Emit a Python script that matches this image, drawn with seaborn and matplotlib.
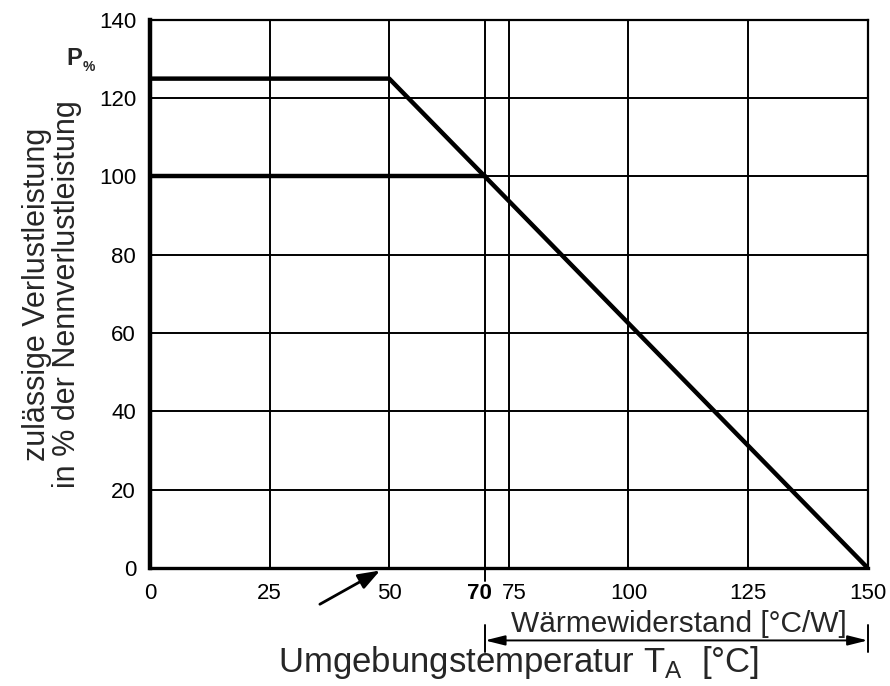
import matplotlib
matplotlib.use("Agg")
import matplotlib.pyplot as plt
import matplotlib.transforms as mtransforms
import seaborn as sns
import pandas as pd

sns.set_theme(style="white")
plt.rcParams['font.family'] = ['Liberation Sans', 'DejaVu Sans']

# Data
derating_temp = [0, 50, 150]
derating_pct = [125, 125, 0]
nominal_temp = [0, 70]
nominal_pct = [100, 100]
x_ticks = [0, 25, 50, 70, 75, 100, 125, 150]
y_ticks = [0, 20, 40, 60, 80, 100, 120, 140]

df1 = pd.DataFrame({"T": derating_temp, "P": derating_pct})
df2 = pd.DataFrame({"T": nominal_temp, "P": nominal_pct})

fig = plt.figure(figsize=(8.9, 6.86), dpi=100)
ax = fig.add_axes([0.1685, 0.172, 0.8065, 0.799])

sns.lineplot(data=df1, x="T", y="P", ax=ax, color="black", linewidth=3.2, estimator=None, sort=False)
sns.lineplot(data=df2, x="T", y="P", ax=ax, color="black", linewidth=3.2, estimator=None, sort=False)

ax.set_xlim(0, 150)
ax.set_ylim(0, 140)
ax.set_xticks(x_ticks)
ax.set_yticks(y_ticks)
ax.set_xticklabels([str(v) for v in x_ticks], fontsize=16)
ax.set_yticklabels([str(v) for v in y_ticks], fontsize=16)
ax.tick_params(axis="x", length=0, pad=11, colors="black")
ax.tick_params(axis="y", length=0, pad=10, colors="black")
for lbl in ax.get_xticklabels():
    t = lbl.get_text()
    if t == "70":
        lbl.set_fontweight("bold")
        lbl.set_transform(lbl.get_transform() + mtransforms.ScaledTranslation(-5 / 100, 0, fig.dpi_scale_trans))
    elif t == "75":
        lbl.set_transform(lbl.get_transform() + mtransforms.ScaledTranslation(5 / 100, 0, fig.dpi_scale_trans))
ax.grid(True, color="black", linewidth=1.4)
ax.set_axisbelow(True)
for side in ["top", "right"]:
    ax.spines[side].set_linewidth(1.6)
    ax.spines[side].set_color("black")
ax.spines["left"].set_linewidth(3.2)
ax.spines["left"].set_color("black")
ax.spines["bottom"].set_linewidth(2.4)
ax.spines["bottom"].set_color("black")

ax.set_xlabel("")
ax.set_ylabel("zulässige Verlustleistung\nin % der Nennverlustleistung", fontsize=22, labelpad=12, linespacing=1.0)

# tick below 70
ax.plot([70, 70], [0, -3.2], color="black", linewidth=1.4, clip_on=False)

# arrow pointing at 50
ax.annotate("", xy=(48.6, -0.3), xytext=(35, -9.6), xycoords="data", textcoords="data",
            arrowprops=dict(arrowstyle="-|>,head_length=1.1,head_width=0.4", color="black", lw=2),
            annotation_clip=False)

# dimension line for thermal resistance
ax.annotate("", xy=(70, -18.5), xytext=(150, -18.5), xycoords="data", textcoords="data",
            arrowprops=dict(arrowstyle="<|-|>,head_length=1.0,head_width=0.25", color="black", lw=1.4,
                            shrinkA=0, shrinkB=0),
            annotation_clip=False)
ax.plot([70, 70], [-14.5, -21.5], color="black", linewidth=1.4, clip_on=False)
ax.plot([150, 150], [-14.5, -21.5], color="black", linewidth=1.4, clip_on=False)
ax.text(110.5, -14.3, "Wärmewiderstand [°C/W]", fontsize=21.5, ha="center", va="center", clip_on=False)

fig.text(0.583, 0.034, r"Umgebungstemperatur T$_\mathregular{A}$  [°C]", fontsize=25, ha="center", va="center")

fig.text(0.075, 0.915, "P", fontsize=17, fontweight="bold", ha="left", va="center")
fig.text(0.0925, 0.902, "%", fontsize=10, fontweight="bold", ha="left", va="center")

fig.savefig("out.png", dpi=100)
